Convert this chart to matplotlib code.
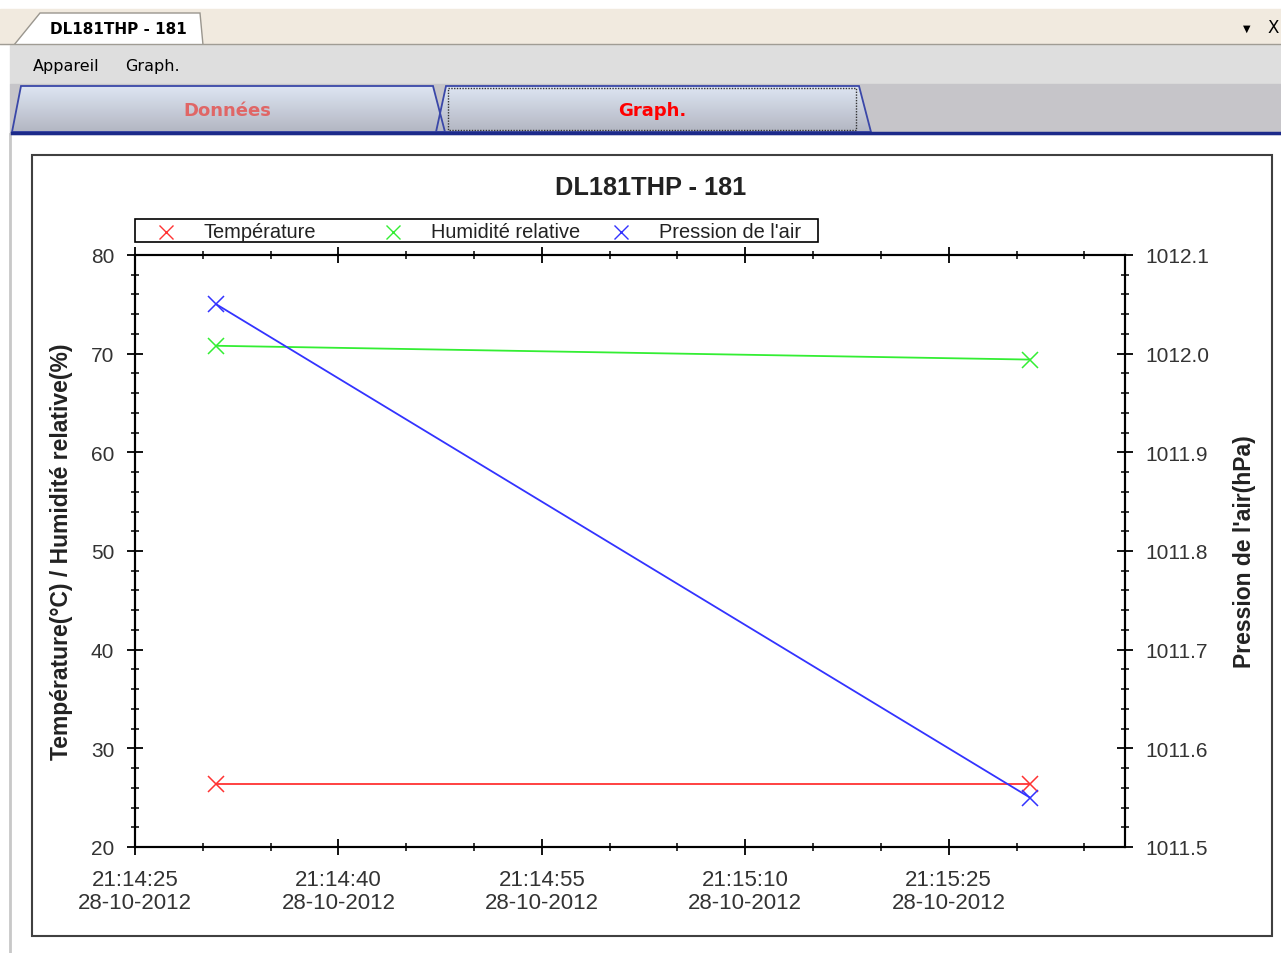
import matplotlib
matplotlib.use("Agg")
import matplotlib.pyplot as plt
import matplotlib.dates as mdates
from matplotlib.patches import Polygon, Rectangle
from matplotlib.ticker import MultipleLocator, FormatStrFormatter
import numpy as np
import pandas as pd

# data
times = pd.to_datetime(["2012-10-28 21:14:31", "2012-10-28 21:15:31"])
temperature = [26.4, 26.4]
humidity = [70.8, 69.4]
pressure = [1012.05, 1011.55]

series_names = ["Température", "Humidité relative", "Pression de l'air"]
series_colors = ["#ff3333", "#33ee33", "#3333ff"]

x_start = pd.Timestamp("2012-10-28 21:14:25")
x_end = pd.Timestamp("2012-10-28 21:15:38")

W, H = 1281, 954
fig = plt.figure(figsize=(W / 100, H / 100), dpi=100)
plt.rcParams['font.family'] = ['Liberation Sans', 'DejaVu Sans']

# ---- window chrome (pixel coordinates) ----
bg = fig.add_axes([0, 0, 1, 1], zorder=0)
bg.set_xlim(0, W)
bg.set_ylim(H, 0)
bg.axis("off")

bg.add_patch(Rectangle((0, 10), W, 35, color="#f1eadf"))
bg.plot([0, W], [45, 45], color="#a09c94", lw=1)
bg.add_patch(Polygon([(14, 46), (40, 14), (200, 14), (203, 46)], closed=True,
                     facecolor="white", edgecolor="#9a968e", lw=1))
bg.text(118, 29, "DL181THP - 181", ha="center", va="center", fontsize=11,
        fontweight="bold", family="DejaVu Sans")
bg.text(1247, 29, "▼", ha="center", va="center", fontsize=7, family="DejaVu Sans")
bg.text(1273, 28, "X", ha="center", va="center", fontsize=12, family="DejaVu Sans")

bg.add_patch(Rectangle((10, 46), W, 39, color="#dedede"))
bg.text(33, 67, "Appareil", ha="left", va="center", fontsize=11.5, family="DejaVu Sans")
bg.text(125, 67, "Graph.", ha="left", va="center", fontsize=11.5, family="DejaVu Sans")

bg.add_patch(Rectangle((10, 85), W, 50, color="#c6c5c9"))
grad = np.linspace(0, 1, 64).reshape(-1, 1)
tab_cmap = matplotlib.colors.LinearSegmentedColormap.from_list("tab", ["#dde5f2", "#b3b6c2"])
for pts, label, tcol in [
    ([(12, 133), (21, 87), (433, 87), (445, 133)], "Données", "#e06666"),
    ([(436, 133), (446, 87), (859, 87), (871, 133)], "Graph.", "#ff0000"),
]:
    poly = Polygon(pts, closed=True, facecolor="none", edgecolor="#3a47a8", lw=1.3, zorder=3)
    bg.add_patch(poly)
    im = bg.imshow(grad, cmap=tab_cmap, extent=(pts[0][0], pts[3][0], 133, 87),
                   aspect="auto", zorder=2)
    im.set_clip_path(poly)
    cx = (pts[1][0] + pts[2][0]) / 2
    bg.text(cx, 111, label, ha="center", va="center", fontsize=13,
            fontweight="bold", color=tcol, family="DejaVu Sans", zorder=4)
bg.add_patch(Rectangle((448, 89), 408, 42, facecolor="none", edgecolor="#333333",
                       lw=1, ls=(0, (1, 1)), zorder=4))
bg.plot([12, W], [134, 134], color="#1c2a8a", lw=2.5, zorder=5)
bg.plot([10, 10], [135, H], color="#c8c8c8", lw=2)

# chart panel frame
bg.add_patch(Rectangle((32, 156), 1240, 781, facecolor="white", edgecolor="#404040", lw=1.5))
bg.text(651, 188, "DL181THP - 181", ha="center", va="center", fontsize=18.3, fontweight="bold",
        color="#222222")

# legend box
bg.add_patch(Rectangle((135, 220), 683, 23, facecolor="white", edgecolor="black", lw=1.2))
for mx, tx, name, col in zip([166, 393, 621], [203, 431, 659], series_names, series_colors):
    bg.plot([mx], [233], marker="x", color=col, ms=10, mew=1)
    bg.text(tx, 232, name, ha="left", va="center", fontsize=14.4, color="#222222")

# ---- chart ----
left, right, top, bottom = 135, 1125, 256, 848
ax = fig.add_axes([left / W, 1 - bottom / H, (right - left) / W, (bottom - top) / H], zorder=2)
ax.patch.set_alpha(0)

ax.plot(times, temperature, color=series_colors[0], lw=1.3, marker="x", ms=11, mew=1.1)
ax.plot(times, humidity, color=series_colors[1], lw=1.3, marker="x", ms=11, mew=1.1)
ax.set_xlim(x_start, x_end)
ax.set_ylim(20, 80)
ax.yaxis.set_major_locator(MultipleLocator(10))
ax.yaxis.set_minor_locator(MultipleLocator(2))
ax.xaxis.set_major_locator(mdates.SecondLocator(bysecond=[10, 25, 40, 55]))
ax.xaxis.set_minor_locator(mdates.SecondLocator(bysecond=range(0, 60, 5)))
ax.xaxis.set_major_formatter(mdates.DateFormatter("%H:%M:%S\n%d-%m-%Y"))

ax2 = ax.twinx()
ax2.plot(times, pressure, color=series_colors[2], lw=1.3, marker="x", ms=11, mew=1.1)
ax2.set_ylim(1011.5, 1012.1)
ax2.yaxis.set_major_locator(MultipleLocator(0.1))
ax2.yaxis.set_minor_locator(MultipleLocator(0.02))
ax2.yaxis.set_major_formatter(FormatStrFormatter("%.1f"))

for a in (ax, ax2):
    for s in a.spines.values():
        s.set_linewidth(1.5)

ax.tick_params(axis="y", which="major", direction="inout", length=12, width=1.3,
               labelsize=15, pad=9, colors="black", labelcolor="#333333")
ax.tick_params(axis="y", which="minor", direction="inout", length=6, width=1.1)
ax.tick_params(axis="x", which="major", direction="inout", length=12, width=1.3,
               labelsize=16, pad=10, top=True, labelcolor="#333333")
ax.tick_params(axis="x", which="minor", direction="inout", length=6, width=1.1, top=True)
ax2.tick_params(axis="y", which="major", direction="inout", length=12, width=1.3,
                labelsize=15, pad=9, labelcolor="#333333")
ax2.tick_params(axis="y", which="minor", direction="inout", length=6, width=1.1)

ax.set_ylabel("Température(°C) / Humidité relative(%)", fontsize=16.5, fontweight="bold",
              color="#222222")
ax.yaxis.set_label_coords((73 - left) / (right - left), 0.5)
ax2.set_ylabel("Pression de l'air(hPa)", fontsize=16.5, fontweight="bold", color="#222222")
ax2.yaxis.set_label_coords((1233 - left) / (right - left), 0.5)

fig.canvas.draw()
for lbl in ax.get_xticklabels():
    lbl.set_linespacing(1.12)

fig.savefig("out.png", dpi=100)
